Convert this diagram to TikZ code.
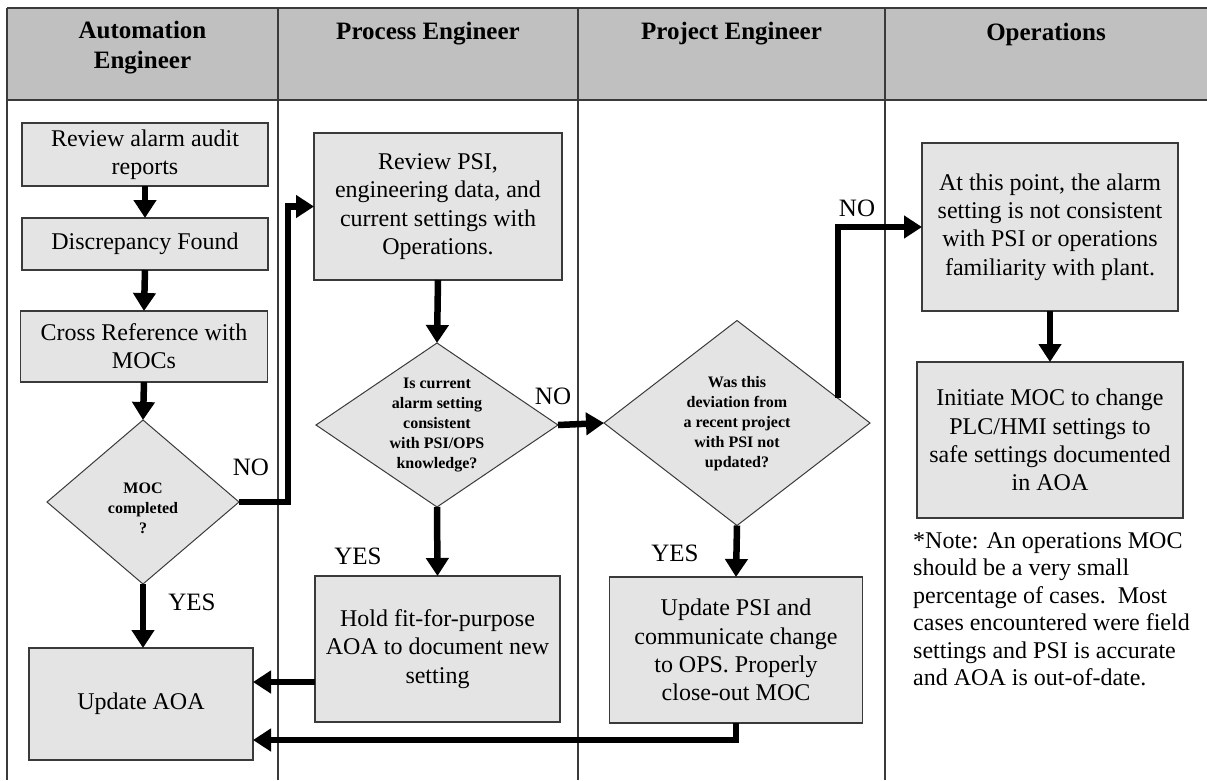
\documentclass[tikz,border=0pt]{standalone}
\usepackage{fontspec}
\setmainfont{Liberation Serif}
\usetikzlibrary{arrows.meta,shapes.geometric,calc}
\definecolor{hdrgray}{HTML}{C0C0C0}
\definecolor{boxgray}{HTML}{E4E4E4}
\definecolor{rulegray}{HTML}{3A3A3A}
\begin{document}
\begin{tikzpicture}[x=1pt,y=-1pt,
  stepbox/.style={draw=rulegray, line width=1.2pt, fill=boxgray, inner sep=0pt,
    outer sep=0pt, align=center, font=\fontsize{24}{28.3}\selectfont},
  decision/.style={diamond, draw=rulegray, line width=1pt, fill=boxgray,
    inner sep=0pt, outer sep=0pt},
  dtext/.style={align=center, inner sep=0pt, font=\fontsize{16}{20}\selectfont\bfseries},
  flow/.style={line width=6.5pt, -{Triangle[width=22pt,length=18pt]}},
  lbl/.style={inner sep=0pt, font=\fontsize{25}{30}\selectfont},
  hdr/.style={inner sep=0pt, align=center, font=\fontsize{25}{30}\selectfont\bfseries},
  lane/.style={draw=rulegray, line width=1.2pt},
  frame/.style={draw=rulegray, line width=2.8pt},
]
\useasboundingbox (0,0) rectangle (1207,780);

% header band and swimlane rules
\fill[hdrgray] (7,8) rectangle (1207,100);
\draw[frame] (7,8) -- (1207,8);
\draw[frame] (7,100) -- (1207,100);
\draw[frame] (7,8) -- (7,780);
\draw[lane] (278,8) -- (278,780);
\draw[lane] (578,8) -- (578,780);
\draw[lane] (885,8) -- (885,780);

\node[hdr] (h1) at (142.5,48) {Automation\\Engineer};
\node[hdr] (h2) at (428,34) {Process Engineer};
\node[hdr] (h3) at (731.5,34) {Project Engineer};
\node[hdr] (h4) at (1046,34) {Operations};

% Automation Engineer lane
\node[stepbox, minimum width=246pt, minimum height=63pt] (A1) at (145,154.5) {Review alarm audit\\reports};
\node[stepbox, minimum width=246pt, minimum height=52pt] (A2) at (145,244) {Discrepancy Found};
\node[stepbox, minimum width=247pt, minimum height=71pt] (A3) at (144,346.5) {Cross Reference with\\MOCs};
\node[decision, minimum width=192pt, minimum height=164pt] (D1) at (143,502) {};
\node[dtext] (D1t) at (143,508) {MOC\\completed\\?};
\node[stepbox, minimum width=224pt, minimum height=112pt] (U) at (141,704) {Update AOA};

% Process Engineer lane
\node[stepbox, minimum width=248pt, minimum height=147pt] (P1) at (438,206.5) {Review PSI,\\engineering data, and\\current settings with\\Operations.};
\node[decision, minimum width=242pt, minimum height=164pt] (D2) at (437,425) {};
\node[dtext] (D2t) at (437,425) {Is current\\alarm setting\\consistent\\with PSI/OPS\\knowledge?};
\node[stepbox, minimum width=245pt, minimum height=146pt] (Hold) at (437.5,649) {Hold fit-for-purpose\\AOA to document new\\setting};

% Project Engineer lane
\node[decision, minimum width=266pt, minimum height=205pt] (D3) at (737,423) {};
\node[dtext] (D3t) at (737,424) {Was this\\deviation from\\a recent project\\with PSI not\\updated?};
\node[stepbox, minimum width=253pt, minimum height=146pt] (P2) at (736,650) {Update PSI and\\communicate change\\to OPS. Properly\\close-out MOC};

% Operations lane
\node[stepbox, minimum width=256pt, minimum height=168pt] (O1) at (1050,227) {At this point, the alarm\\setting is not consistent\\with PSI or operations\\familiarity with plant.};
\node[stepbox, minimum width=266pt, minimum height=156pt] (O2) at (1050,440) {Initiate MOC to change\\PLC/HMI settings to\\safe settings documented\\in AOA};
\node[anchor=north west, align=left, inner sep=0pt, font=\fontsize{24}{27.5}\selectfont] (note) at (913,532)
  {*Note: An operations MOC\\should be a very small\\percentage of cases.\ \ Most\\cases encountered were field\\settings and PSI is accurate\\and AOA is out-of-date.};

% connectors
\draw[flow] (A1.south) -- (A2.north);
\draw[flow] (A2.south) -- (A3.north);
\draw[flow] (A3.south) -- (D1.north);
\draw[flow] (D1.south) -- (D1.south |- U.north);
\draw[flow] (D1.east) -- ($(D1.east -| P1.west)+(-26,0)$) |- (P1.west);
\draw[flow] (P1.south) -- (D2.north);
\draw[flow] (D2.south) -- (Hold.north);
\draw[flow] (D2.east) -- (D3.west);
\coordinate (d3ne) at ($(D3.north)!0.76!(D3.east)$);
\draw[flow] (d3ne) |- (O1.west);
\draw[flow] (O1.south) -- (O2.north);
\draw[flow] (D3.south) -- (P2.north);
\coordinate (hl) at ($(Hold.west)+(0,33)$);
\draw[flow] (hl) -- (hl -| U.east);
\draw[flow] (P2.south) |- ($(U.east)+(0,36)$);

% branch labels
\node[lbl] (no1) at (251,467) {NO};
\node[lbl] (no2) at (553,396) {NO};
\node[lbl] (no3) at (857,208) {NO};
\node[lbl] (yes1) at (192,602) {YES};
\node[lbl] (yes2) at (358,556) {YES};
\node[lbl] (yes3) at (675,553) {YES};
\end{tikzpicture}
\end{document}
